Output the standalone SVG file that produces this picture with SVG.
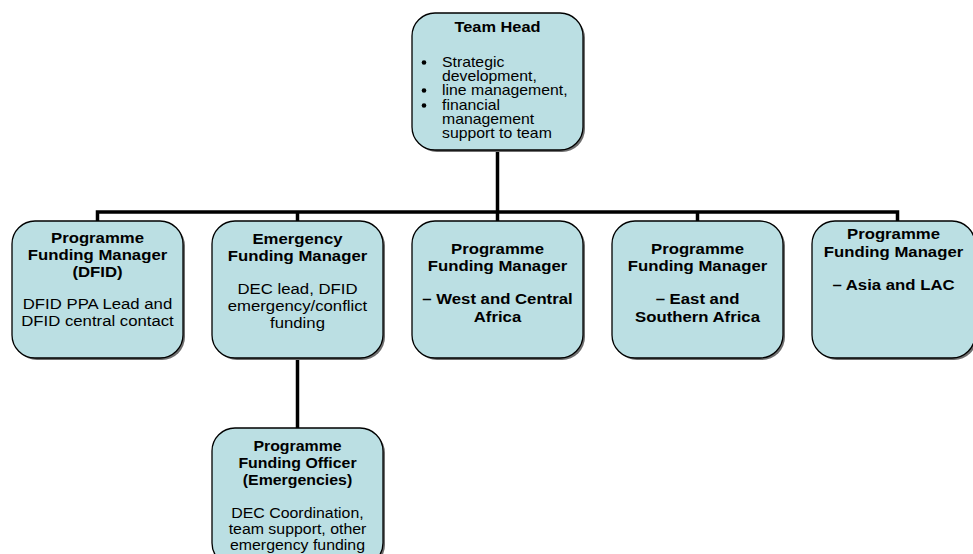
<svg xmlns="http://www.w3.org/2000/svg" width="973" height="554" viewBox="0 0 973 554">
<style>
.sh{fill:#6e6e6e}
.box{fill:#BBDFE3;stroke:#000;stroke-width:1.3}
.conn{fill:none;stroke:#000;stroke-width:3.5;stroke-linejoin:miter}
text{font-family:"Liberation Sans",Arial,Helvetica,sans-serif;fill:#000}
.t{font-size:15.5px;text-anchor:middle}
.s{font-size:15px;text-anchor:middle}
.h{font-size:14px}
.c{text-anchor:middle}
.b{font-weight:bold}
</style>
<rect width="973" height="554" fill="#fff"/>
<g id="connectors">
<path class="conn" d="M497.5,150 V221"/>
<path class="conn" d="M97.5,221 V212 H897.5 V221"/>
<path class="conn" d="M297.5,212 V221"/>
<path class="conn" d="M697.5,212 V221"/>
<path class="conn" d="M297.5,358 V428"/>
</g>
<g id="team-head">
<rect class="sh" x="414" y="15" width="171" height="137" rx="23"/>
<rect class="box" x="412" y="13" width="171" height="137" rx="23"/>
<g transform="translate(497.5 0) scale(1.17 1)"><text class="h c b" x="0" y="32">Team Head</text></g>
<circle cx="424" cy="62.5" r="2.3"/>
<circle cx="424" cy="90.5" r="2.3"/>
<circle cx="424" cy="105.5" r="2.3"/>
<g transform="translate(442 0) scale(1.13 1)">
<text class="h" x="0" y="67">Strategic</text>
<text class="h" x="0" y="81">development,</text>
<text class="h" x="0" y="95">line management,</text>
<text class="h" x="0" y="110">financial</text>
<text class="h" x="0" y="124">management</text>
<text class="h" x="0" y="138">support to team</text>
</g>
</g>
<g id="pfm-dfid">
<rect class="sh" x="14" y="223" width="171" height="137" rx="23"/>
<rect class="box" x="12" y="221" width="171" height="137" rx="23"/>
<g transform="translate(97.5 0) scale(1.08 1)">
<text class="t b" x="0" y="243">Programme</text>
<text class="t b" x="0" y="260">Funding Manager</text>
<text class="t b" x="0" y="277">(DFID)</text>
<text class="t" x="0" y="309">DFID PPA Lead and</text>
<text class="t" x="0" y="326">DFID central contact</text>
</g>
</g>
<g id="efm">
<rect class="sh" x="214" y="223" width="171" height="137" rx="23"/>
<rect class="box" x="212" y="221" width="171" height="137" rx="23"/>
<g transform="translate(297.5 0) scale(1.08 1)">
<text class="t b" x="0" y="244">Emergency</text>
<text class="t b" x="0" y="261">Funding Manager</text>
<text class="t" x="0" y="294">DEC lead, DFID</text>
<text class="t" x="0" y="311">emergency/conflict</text>
<text class="t" x="0" y="328">funding</text>
</g>
</g>
<g id="pfm-wca">
<rect class="sh" x="414" y="223" width="171" height="137" rx="23"/>
<rect class="box" x="412" y="221" width="171" height="137" rx="23"/>
<g transform="translate(497.5 0) scale(1.08 1)">
<text class="t b" x="0" y="254">Programme</text>
<text class="t b" x="0" y="271">Funding Manager</text>
<text class="t b" x="0" y="304">– West and Central</text>
<text class="t b" x="0" y="322">Africa</text>
</g>
</g>
<g id="pfm-esa">
<rect class="sh" x="614" y="223" width="171" height="137" rx="23"/>
<rect class="box" x="612" y="221" width="171" height="137" rx="23"/>
<g transform="translate(697.5 0) scale(1.08 1)">
<text class="t b" x="0" y="254">Programme</text>
<text class="t b" x="0" y="271">Funding Manager</text>
<text class="t b" x="0" y="304">– East and</text>
<text class="t b" x="0" y="322">Southern Africa</text>
</g>
</g>
<g id="pfm-asia">
<rect class="sh" x="814" y="223" width="163" height="137" rx="23"/>
<rect class="box" x="812" y="221" width="163" height="137" rx="23"/>
<g transform="translate(893.5 0) scale(1.08 1)">
<text class="t b" x="0" y="239">Programme</text>
<text class="t b" x="0" y="257">Funding Manager</text>
<text class="t b" x="0" y="290">– Asia and LAC</text>
</g>
</g>
<g id="pfo-emergencies">
<rect class="sh" x="214" y="430" width="171" height="138" rx="23"/>
<rect class="box" x="212" y="428" width="171" height="138" rx="23"/>
<g transform="translate(297.5 0) scale(1.06 1)">
<text class="s b" x="0" y="451">Programme</text>
<text class="s b" x="0" y="468">Funding Officer</text>
<text class="s b" x="0" y="485">(Emergencies)</text>
<text class="s" x="0" y="518">DEC Coordination,</text>
<text class="s" x="0" y="534">team support, other</text>
<text class="s" x="0" y="550">emergency funding</text>
</g>
</g>
</svg>
